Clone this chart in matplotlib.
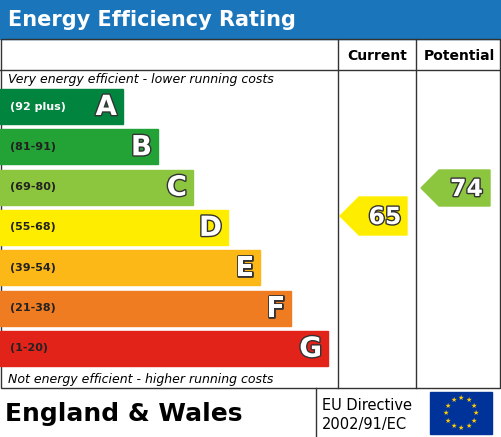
import matplotlib
matplotlib.use("Agg")
import matplotlib.pyplot as plt
import matplotlib.patheffects as pe
from matplotlib.patches import Rectangle, Polygon
import numpy as np

bands = ["A", "B", "C", "D", "E", "F", "G"]
ranges = ["(92 plus)", "(81-91)", "(69-80)", "(55-68)", "(39-54)", "(21-38)", "(1-20)"]
colors = ["#00843e", "#23a235", "#8cc63e", "#ffed00", "#fbb817", "#f07c22", "#e2231a"]
bar_right = [123, 158, 193, 228, 260, 291, 328]
current = 65
potential = 74
current_color = "#ffed00"
potential_color = "#8cc63e"

W, H = 501, 437
fig = plt.figure(figsize=(W/100, H/100), dpi=100)
ax = fig.add_axes([0, 0, 1, 1])
ax.set_xlim(0, W); ax.set_ylim(H, 0); ax.axis("off")

outline = [pe.withStroke(linewidth=2, foreground="#333333")]

ax.add_patch(Rectangle((0, 0), W, 39, color="#1a75bb"))
ax.text(8, 20, "Energy Efficiency Rating", color="white", fontsize=15, fontweight="bold", va="center")

lc = "#333333"
ax.add_patch(Rectangle((0.5, 39), W-1.5, 349, fill=False, ec=lc, lw=1))
ax.plot([338, 338], [39, 388], color=lc, lw=1)
ax.plot([416, 416], [39, 388], color=lc, lw=1)
ax.plot([0, W], [70, 70], color=lc, lw=1)
ax.text(377, 56, "Current", ha="center", va="center", fontsize=10, fontweight="bold")
ax.text(459, 56, "Potential", ha="center", va="center", fontsize=10, fontweight="bold")
ax.text(8, 80, "Very energy efficient - lower running costs", fontsize=9, style="italic", va="center")
ax.text(8, 379, "Not energy efficient - higher running costs", fontsize=9, style="italic", va="center")

def band_index(v):
    lows = [92, 81, 69, 55, 39, 21, 1]
    for i, lo in enumerate(lows):
        if v >= lo:
            return i
    return 6

for i, (b, r, c, xr) in enumerate(zip(bands, ranges, colors, bar_right)):
    y0 = 89 + i*40.3
    ax.add_patch(Rectangle((0, y0), xr, 35, color=c))
    tc = "white" if i in (0, 1, 6) else "#222222"
    ax.text(10, y0+17.5, r, fontsize=8, fontweight="bold", color="#222222" if i not in (0,) else "white", va="center")
    ax.text(xr-6, y0+18, b, fontsize=20, fontweight="bold", color="white", ha="right", va="center", path_effects=outline)

def arrow(x0, x1, yc, h, color, val):
    pts = [(x0, yc), (x0+h/2, yc-h/2), (x1, yc-h/2), (x1, yc+h/2), (x0+h/2, yc+h/2)]
    ax.add_patch(Polygon(pts, color=color))
    ax.text((x0+h/2+x1)/2+2, yc+1, str(val), fontsize=17, fontweight="bold", color="white", ha="center", va="center", path_effects=outline)

arrow(340, 407, 216, 38, current_color, current)
arrow(421, 490, 188, 36, potential_color, potential)

ax.text(5, 414, "England & Wales", fontsize=18, fontweight="bold", va="center")
ax.plot([316, 316], [388, H], color=lc, lw=1)
ax.text(322, 405, "EU Directive", fontsize=10.5, va="center")
ax.text(322, 424, "2002/91/EC", fontsize=10.5, va="center")
ax.add_patch(Rectangle((430, 392), 62, 42, color="#003399"))
for a in np.linspace(0, 2*np.pi, 12, endpoint=False):
    ax.text(461+15*np.cos(a), 413+15*np.sin(a), "★", color="#ffcc00", fontsize=5, ha="center", va="center")

fig.savefig("out.png", dpi=100)
